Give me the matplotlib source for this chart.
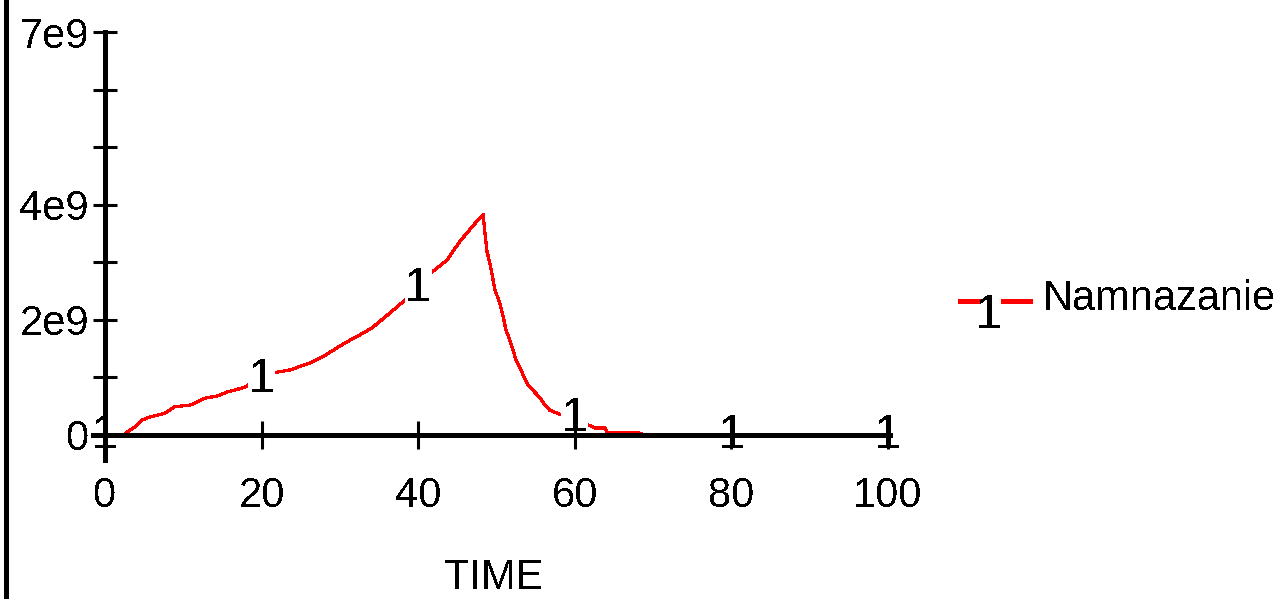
import numpy as np
import matplotlib
matplotlib.use("Agg")
import matplotlib.pyplot as plt
from matplotlib.lines import Line2D

# data (values in units of 1e9)
time = [0, 2.5, 2.8, 3.8, 4.7, 5.7, 7.7, 8.9, 10.9, 12.8, 14.4, 15.7, 17.9, 18.5,
        20, 21.5, 23.6, 26.2, 28.2, 30.4, 32.3, 34.1, 35.6, 37.0, 38.2,
        40, 41.5, 43.7, 45.3, 47.1, 48.3, 48.5, 48.8, 49.2, 49.8, 50.4, 50.8,
        51.2, 51.7, 52.1, 52.5, 53.0, 53.5, 54.0, 54.7, 55.6, 56.2, 56.8, 57.9,
        60, 61.3, 62.6, 63.9, 64.1, 67.9, 69, 80, 100]
namnazanie = [0, 0, 0.05, 0.14, 0.26, 0.31, 0.38, 0.49, 0.52, 0.64, 0.68, 0.75, 0.83, 0.89,
              0.97, 1.08, 1.13, 1.25, 1.39, 1.58, 1.72, 1.86, 2.03, 2.19, 2.33,
              2.55, 2.8, 3.04, 3.36, 3.65, 3.83, 3.53, 3.18, 2.96, 2.52, 2.3, 2.09,
              1.83, 1.65, 1.48, 1.30, 1.17, 1.01, 0.87, 0.77, 0.64, 0.52, 0.43, 0.37,
              0.28, 0.2, 0.12, 0.12, 0.05, 0.05, 0.0, 0.0, 0.0]
marker_times = [0, 20, 40, 60, 80, 100]
x_ticks = [0, 20, 40, 60, 80, 100]
y_major = [0, 2e9, 4e9, 7e9]
y_labels = ["0", "2e9", "4e9", "7e9"]
y_minor = [1e9, 3e9, 5e9, 6e9]

time = np.array(time)
vals = np.array(namnazanie) * 1e9

plt.rcParams["font.family"] = ["Liberation Sans", "DejaVu Sans"]
plt.rcParams["lines.antialiased"] = False
plt.rcParams["text.antialiased"] = False
plt.rcParams["patch.antialiased"] = False

W, H = 1283, 599
fig = plt.figure(figsize=(W / 100, H / 100), dpi=100)
fs = 30      # labels
fs_num = 35  # the "1" series markers

def fx(x):
    return x / W

def fy(y):
    return (H - y) / H

ax = fig.add_axes([fx(105), fy(435), fx(888) - fx(105), fy(32) - fy(435)])
ax.set_xlim(0, 100)
ax.set_ylim(0, 7e9)
ax.set_axisbelow(False)

ax.plot(time, vals, color="#ff0000", lw=1.6, zorder=2)

for t in marker_times:
    i = list(time).index(t)
    ax.text(t, vals[i], "1", ha="center", va="center", fontsize=fs_num, color="black",
            zorder=2.2, bbox=dict(facecolor="white", edgecolor="none", pad=0))

for s in ["top", "right"]:
    ax.spines[s].set_visible(False)
ax.spines["left"].set_linewidth(2.2)
ax.spines["bottom"].set_linewidth(2.2)
ax.spines["left"].set_bounds(-0.43e9, 7e9)
ax.spines["bottom"].set_bounds(-1.5, 100.3)

ax.set_xticks(x_ticks)
ax.set_xticklabels([str(v) for v in x_ticks])
ax.set_yticks(y_major)
ax.set_yticklabels(y_labels)
ax.set_yticks(y_minor, minor=True)
ax.tick_params(axis="x", direction="inout", length=19.5, width=2.2, pad=20, labelsize=fs)
ax.tick_params(axis="y", which="both", direction="inout", length=17, width=2.2, pad=3, labelsize=fs)

fig.text(fx(494), fy(598), "TIME", ha="center", va="bottom", fontsize=fs)

# legend
fig.add_artist(Line2D([fx(960), fx(978)], [fy(301), fy(301)], color="#ff0000", lw=2.2))
fig.add_artist(Line2D([fx(1003), fx(1030)], [fy(301), fy(301)], color="#ff0000", lw=2.2))
fig.text(fx(989), fy(328), "1", ha="center", va="baseline", fontsize=fs_num)
fig.text(fx(1043), fy(310), "Namnazanie", ha="left", va="baseline", fontsize=fs)

# left border
fig.add_artist(Line2D([fx(6), fx(6)], [0, 1], color="black", lw=2.2))

fig.savefig("out.png", dpi=100, facecolor="white")
